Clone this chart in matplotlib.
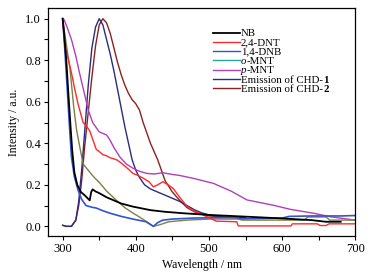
import matplotlib
matplotlib.use("Agg")
import matplotlib.pyplot as plt
from matplotlib.ticker import MultipleLocator, FormatStrFormatter

plt.rcParams['font.family'] = ['Liberation Serif', 'DejaVu Serif']

# NB
nb_x = [300, 302, 305, 308, 311, 313, 316, 320, 325, 330, 337, 339, 341, 345, 350, 360, 370,
        380, 396, 420, 440, 465, 500, 530, 560, 600, 640, 660, 680]
nb_y = [1.0, 0.93, 0.8, 0.63, 0.47, 0.37, 0.26, 0.2, 0.165, 0.15, 0.125, 0.165, 0.178, 0.168,
        0.16, 0.14, 0.125, 0.11, 0.095, 0.078, 0.07, 0.063, 0.055, 0.05, 0.045, 0.038, 0.03,
        0.022, 0.022]

# 2,4-DNT
dnt_x = [300, 303, 308, 312, 316, 321, 328, 333, 337, 342, 346, 350, 355, 360, 365, 370, 374,
         380, 385, 390, 396, 403, 410, 418, 424, 430, 437, 444, 451, 460, 469, 476, 483, 492,
         501, 510, 538, 540, 612, 614, 648, 652, 660, 664, 700]
dnt_y = [1.0, 0.87, 0.8, 0.74, 0.67, 0.59, 0.5, 0.48, 0.46, 0.41, 0.37, 0.36, 0.345, 0.34,
         0.33, 0.325, 0.32, 0.305, 0.29, 0.275, 0.255, 0.245, 0.232, 0.215, 0.19, 0.2, 0.215,
         0.2, 0.183, 0.14, 0.1, 0.08, 0.07, 0.055, 0.04, 0.025, 0.022, 0.002, 0.002, 0.012,
         0.012, 0.004, 0.004, 0.012, 0.012]

# 1,4-DNB
dnb_x = [300, 303, 306, 309, 312, 316, 321, 326, 332, 340, 346, 355, 364, 380, 396, 414, 424,
         430, 437, 450, 480, 520, 538, 545, 600, 610, 640, 680, 700]
dnb_y = [1.0, 0.85, 0.68, 0.5, 0.335, 0.24, 0.175, 0.13, 0.1, 0.092, 0.088, 0.075, 0.064,
         0.048, 0.035, 0.022, 0.0, 0.018, 0.03, 0.035, 0.04, 0.042, 0.042, 0.036, 0.04, 0.048,
         0.05, 0.05, 0.052]

# o-MNT
omnt_x = [300, 304, 310, 315, 319, 323, 328, 335, 342, 351, 360, 373, 385, 396, 405, 415, 424,
          433, 445, 470, 500, 540, 545, 600, 630, 635, 660, 665, 700]
omnt_y = [1.0, 0.9, 0.76, 0.58, 0.465, 0.39, 0.3, 0.27, 0.24, 0.208, 0.17, 0.127, 0.09, 0.064,
          0.045, 0.022, 0.0, 0.008, 0.022, 0.03, 0.035, 0.035, 0.03, 0.03, 0.03, 0.045, 0.045,
          0.03, 0.03]

# p-MNT
pmnt_x = [302, 306, 312, 318, 323, 329, 335, 341, 350, 360, 364, 370, 378, 387, 396, 405, 415,
          425, 437, 450, 460, 480, 506, 530, 552, 565, 590, 611, 643, 666, 700]
pmnt_y = [0.995, 0.96, 0.9, 0.82, 0.74, 0.65, 0.56, 0.5, 0.455, 0.44, 0.42, 0.38, 0.335, 0.3,
          0.28, 0.265, 0.255, 0.252, 0.258, 0.25, 0.245, 0.23, 0.207, 0.17, 0.127, 0.118, 0.1,
          0.082, 0.063, 0.046, 0.03]

# Emission of CHD-1
chd1_x = [300, 305, 312, 318, 322, 326, 330, 335, 340, 345, 350, 355, 360, 365, 370, 375, 380,
          385, 390, 395, 400, 405, 412, 420, 430, 440, 450, 460, 470, 480, 490, 500, 520, 550]
chd1_y = [0.005, 0.0, 0.0, 0.03, 0.12, 0.27, 0.45, 0.68, 0.86, 0.96, 1.0, 0.97, 0.9, 0.83,
          0.75, 0.66, 0.57, 0.48, 0.4, 0.32, 0.27, 0.235, 0.2, 0.18, 0.165, 0.15, 0.135, 0.12,
          0.1, 0.08, 0.065, 0.055, 0.045, 0.04]

# Emission of CHD-2
chd2_x = [300, 305, 312, 318, 322, 326, 330, 335, 340, 345, 350, 355, 360, 365, 370, 375, 380,
          385, 390, 395, 400, 405, 410, 415, 420, 425, 430, 440, 450, 460, 470, 480, 490, 500,
          520, 550]
chd2_y = [0.005, 0.0, 0.0, 0.03, 0.1, 0.22, 0.38, 0.55, 0.72, 0.87, 0.97, 1.0, 0.98, 0.93,
          0.86, 0.79, 0.73, 0.68, 0.64, 0.61, 0.59, 0.56, 0.5, 0.45, 0.4, 0.36, 0.32, 0.22,
          0.165, 0.125, 0.09, 0.07, 0.06, 0.05, 0.045, 0.04]

# legend labels split in pieces: (text, style)  n = normal, i = italic, b = bold
labels = [[('NB', 'n')], [('2,4-DNT', 'n')], [('1,4-DNB', 'n')],
          [('o', 'i'), ('-MNT', 'n')], [('p', 'i'), ('-MNT', 'n')],
          [('Emission of CHD-', 'n'), ('1', 'b')], [('Emission of CHD-', 'n'), ('2', 'b')]]
legend_colors = ['black', '#ff2a2a', '#3355cc', '#2aa39a', '#b040b8', '#2b2b80', '#8b2222']

W, H = 378, 272
fig = plt.figure(figsize=(W / 100, H / 100), dpi=100)
ax = fig.add_axes([0.127, 0.132, 0.813, 0.839])

ax.plot(chd2_x, chd2_y, color='#8b2222', lw=1.0)
ax.plot(chd1_x, chd1_y, color='#2b2b80', lw=1.0)
ax.plot(pmnt_x, pmnt_y, color='#b040b8', lw=1.0)
ax.plot(omnt_x, omnt_y, color='#808040', lw=1.0)
ax.plot(dnb_x, dnb_y, color='#3355cc', lw=1.2)
ax.plot(dnt_x, dnt_y, color='#ff2a2a', lw=1.0)
ax.plot(nb_x, nb_y, color='black', lw=1.3)

ax.set_xlim(280, 700)
ax.set_ylim(-0.047, 1.052)
ax.xaxis.set_major_locator(MultipleLocator(100))
ax.xaxis.set_minor_locator(MultipleLocator(50))
ax.yaxis.set_major_locator(MultipleLocator(0.2))
ax.yaxis.set_minor_locator(MultipleLocator(0.1))
ax.yaxis.set_major_formatter(FormatStrFormatter('%.1f'))
ax.tick_params(which='major', direction='out', length=3, width=0.8, labelsize=9, pad=2)
ax.tick_params(which='minor', direction='out', length=3, width=0.8)
for s in ax.spines.values():
    s.set_linewidth(0.9)

ax.set_xlabel('Wavelength / nm', fontsize=8.5, labelpad=3)
ax.set_ylabel('Intensity / a.u.', fontsize=8.5, labelpad=4)

# legend drawn by hand: rows are packed tighter than ax.legend allows
renderer = fig.canvas.get_renderer()
for i, (pieces, c) in enumerate(zip(labels, legend_colors)):
    yy = 1 - (32.5 + i * 9.33) / H
    fig.add_artist(plt.Line2D([213 / W, 240 / W], [yy, yy], color=c,
                              lw=1.3 if i == 0 else 1.0, transform=fig.transFigure))
    xx = 241
    for txt, st in pieces:
        t = fig.text(xx / W, yy, txt, fontsize=7.8, va='center_baseline', ha='left',
                     style='italic' if st == 'i' else 'normal',
                     weight='bold' if st == 'b' else 'normal')
        xx += t.get_window_extent(renderer).width

fig.savefig('out.png', dpi=100)
